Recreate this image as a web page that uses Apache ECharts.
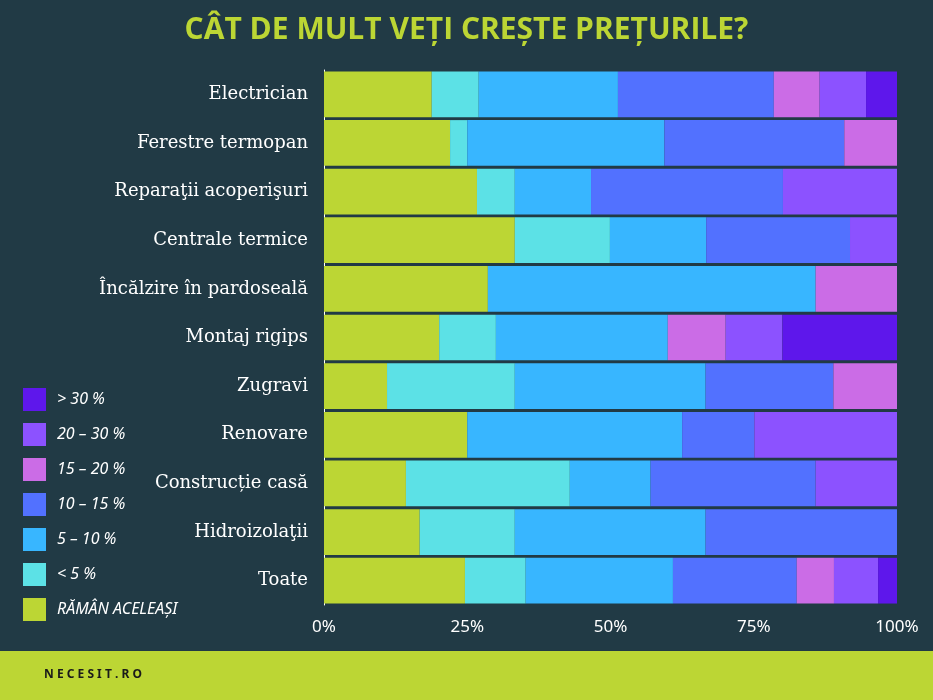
<!DOCTYPE html>
<html>
<head>
<meta charset="utf-8">
<script src="https://cdn.jsdelivr.net/npm/echarts@6/dist/echarts.min.js"></script>
<style>
  html, body { margin: 0; padding: 0; background: #213a45; }
  #chart { width: 933px; height: 700px; }
</style>
</head>
<body>
<div id="chart"></div>
<script>
// top to bottom as shown
let categories = ['Electrician', 'Ferestre termopan', 'Reparaţii acoperişuri', 'Centrale termice',
  'Încălzire în pardoseală', 'Montaj rigips', 'Zugravi', 'Renovare', 'Construcție casă', 'Hidroizolaţii', 'Toate'];

let seriesNames = ['RĂMÂN ACELEAȘI', '< 5 %', '5 – 10 %', '10 – 15 %', '15 – 20 %', '20 – 30 %', '> 30 %'];
let seriesColors = ['#bcd634', '#5ce1e6', '#38b6ff', '#5271ff', '#cb6ce6', '#8c52ff', '#5e17eb'];

let sameValues   = [18.8, 22.0, 26.7, 33.3, 28.6, 20.1, 11.0, 25.0, 14.3, 16.7, 24.6];
let under5       = [8.2, 3.0, 6.6, 16.6, 0, 9.9, 22.3, 0, 28.6, 16.6, 10.6];
let from5to10    = [24.3, 34.4, 13.3, 16.8, 57.2, 30.0, 33.3, 37.5, 14.1, 33.3, 25.7];
let from10to15   = [27.2, 31.4, 33.5, 25.1, 0, 0, 22.3, 12.6, 28.8, 33.4, 21.6];
let from15to20   = [8.0, 9.2, 0, 0, 14.2, 10.1, 11.1, 0, 0, 0, 6.5];
let from20to30   = [8.1, 0, 19.9, 8.2, 0, 9.9, 0, 24.9, 14.2, 0, 7.7];
let over30       = [5.4, 0, 0, 0, 0, 20.0, 0, 0, 0, 0, 3.3];

let xTicks = [0, 25, 50, 75, 100];

let allValues = [sameValues, under5, from5to10, from10to15, from15to20, from20to30, over30];

let chart = echarts.init(document.getElementById('chart'));

let series = seriesNames.map(function (name, i) {
  return {
    name: name,
    type: 'bar',
    stack: 'total',
    barCategoryGap: '6%',
    itemStyle: { color: seriesColors[i] },
    data: allValues[i].slice().reverse()
  };
});

chart.setOption({
  backgroundColor: '#213a45',
  animation: false,
  title: {
    text: 'CÂT DE MULT VEȚI CREȘTE PREȚURILE?',
    left: 'center',
    top: 10,
    textStyle: { color: '#bcd634', fontSize: 30, fontWeight: 'bold', fontFamily: 'Open Sans' }
  },
  grid: { left: 324, right: 36, top: 70, bottom: 95 },
  legend: {
    orient: 'vertical',
    left: 18,
    top: 383,
    itemWidth: 23,
    itemHeight: 23,
    itemGap: 12,
    icon: 'rect',
    data: seriesNames.slice().reverse(),
    textStyle: { color: '#ffffff', fontSize: 16, fontStyle: 'italic', fontFamily: 'Noto Sans', padding: [0, 0, 0, 6] }
  },
  xAxis: {
    type: 'value',
    min: 0,
    max: 100,
    interval: 25,
    axisLine: { show: false },
    axisTick: { show: false },
    splitLine: { show: false },
    axisLabel: {
      color: '#ffffff', fontSize: 17, fontFamily: 'Noto Sans', margin: 14,
      formatter: function (v) { return xTicks.indexOf(v) >= 0 ? v + '%' : ''; }
    }
  },
  yAxis: {
    type: 'category',
    data: categories.slice().reverse(),
    axisLine: { show: true, lineStyle: { color: '#ffffff', width: 1 } },
    axisTick: { show: false },
    axisLabel: { color: '#ffffff', fontSize: 18, fontFamily: 'DejaVu Serif', margin: 16 }
  },
  graphic: [{
    type: 'rect',
    shape: { x: 0, y: 651, width: 933, height: 49 },
    style: { fill: '#bcd634' }
  }, {
    type: 'text',
    left: 44,
    top: 669,
    style: { text: 'N E C E S I T . R O', fill: '#1a1a1a', font: 'bold 12px Noto Sans' }
  }],
  series: series
});
</script>
</body>
</html>
